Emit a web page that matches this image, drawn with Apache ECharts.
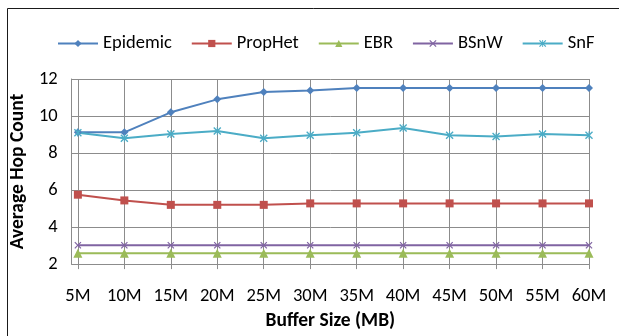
<!DOCTYPE html>
<html>
<head>
<meta charset="utf-8">
<script src="https://cdn.jsdelivr.net/npm/echarts@6/dist/echarts.min.js"></script>
<style>
html,body{margin:0;padding:0;background:#fff;}
#chart{width:619px;height:336px;}
</style>
</head>
<body>
<div id="chart"></div>
<script>
const bufferSizes = [5, 10, 15, 20, 25, 30, 35, 40, 45, 50, 55, 60];
const tickLabels = ['5M','10M','15M','20M','25M','30M','35M','40M','45M','50M','55M','60M'];
const epidemic = [9.12, 9.12, 10.2, 10.9, 11.3, 11.38, 11.52, 11.52, 11.52, 11.52, 11.52, 11.52];
const propHet  = [5.75, 5.44, 5.2, 5.2, 5.2, 5.28, 5.28, 5.28, 5.28, 5.28, 5.28, 5.28];
const ebr      = [2.58, 2.58, 2.58, 2.58, 2.58, 2.58, 2.58, 2.58, 2.58, 2.58, 2.58, 2.58];
const bsnw     = [3.02, 3.02, 3.02, 3.02, 3.02, 3.02, 3.02, 3.02, 3.02, 3.02, 3.02, 3.02];
const snf      = [9.1, 8.8, 9.03, 9.19, 8.8, 8.96, 9.1, 9.35, 8.96, 8.89, 9.03, 8.96];
const yTicks   = [2, 4, 6, 8, 10, 12];

const FONT = 'Carlito, Lato, "Noto Sans", sans-serif';
const GRID = '#8c8c8c';
const xShape = 'path://M0,1.2L1.2,0L5,3.8L8.8,0L10,1.2L6.2,5L10,8.8L8.8,10L5,6.2L1.2,10L0,8.8L3.8,5Z';
const starShape = 'path://M0,1.2L1.2,0L5,3.8L8.8,0L10,1.2L6.2,5L10,8.8L8.8,10L5,6.2L1.2,10L0,8.8L3.8,5Z M4.4,0L5.6,0L5.6,10L4.4,10Z';

function pairs(vals){ return bufferSizes.map((x,i)=>[x, vals[i]]); }
function mk(name, vals, color, symbol, size){
  return {
    name, type:'line', data: pairs(vals), symbol, symbolSize: size,
    lineStyle:{color, width:2}, itemStyle:{color},
    emphasis:{disabled:true}, animation:false
  };
}

const chart = echarts.init(document.getElementById('chart'), null, {renderer:'canvas'});
chart.setOption({
  backgroundColor:'#fff',
  animation:false,
  textStyle:{fontFamily:FONT},
  graphic:[{type:'rect', shape:{x:7.5, y:8.5, width:700, height:400}, style:{fill:'none', stroke:'#1a1a1a', lineWidth:1}, silent:true}],
  legend:{
    top:29, left:52, itemGap:19, itemWidth:40, itemHeight:9,
    textStyle:{fontSize:18.5, color:'#000', fontFamily:FONT},
    data:['Epidemic','PropHet','EBR','BSnW','SnF']
  },
  grid:{left:69, right:30, top:79, bottom:68, containLabel:false},
  xAxis:{
    type:'value', min:4.33, max:60,
    name:'Buffer Size (MB)', nameLocation:'middle', nameGap:43,
    nameTextStyle:{fontSize:19.5, fontWeight:'bold', color:'#000', fontFamily:FONT},
    axisLine:{show:true, lineStyle:{color:GRID, width:1}},
    axisTick:{show:true, length:5, inside:false, customValues:bufferSizes, lineStyle:{color:GRID}},
    axisLabel:{customValues:bufferSizes, margin:23, fontSize:18.5, color:'#000', fontFamily:FONT,
      formatter:(v)=>tickLabels[bufferSizes.indexOf(v)] || ''},
    splitLine:{show:true, lineStyle:{color:GRID, width:1}}
  },
  yAxis:{
    type:'value', min:2, max:12, interval:2,
    name:'Average Hop Count', nameLocation:'middle', nameGap:36, nameRotate:90,
    nameTextStyle:{fontSize:19.5, fontWeight:'bold', color:'#000', fontFamily:FONT},
    axisLine:{show:true, lineStyle:{color:GRID, width:1}},
    axisTick:{show:false},
    axisLabel:{margin:14, fontSize:18.5, color:'#000', fontFamily:FONT,
      formatter:(v)=> yTicks.includes(v) ? String(v) : ''},
    splitLine:{show:true, lineStyle:{color:GRID, width:1}}
  },
  series:[
    mk('Epidemic', epidemic, '#4F81BD', 'diamond', 8),
    mk('PropHet', propHet, '#C0504D', 'rect', 8),
    mk('EBR', ebr, '#9BBB59', 'triangle', 9),
    mk('BSnW', bsnw, '#8064A2', xShape, 7),
    mk('SnF', snf, '#4BACC6', starShape, 8)
  ]
});
</script>
</body>
</html>
